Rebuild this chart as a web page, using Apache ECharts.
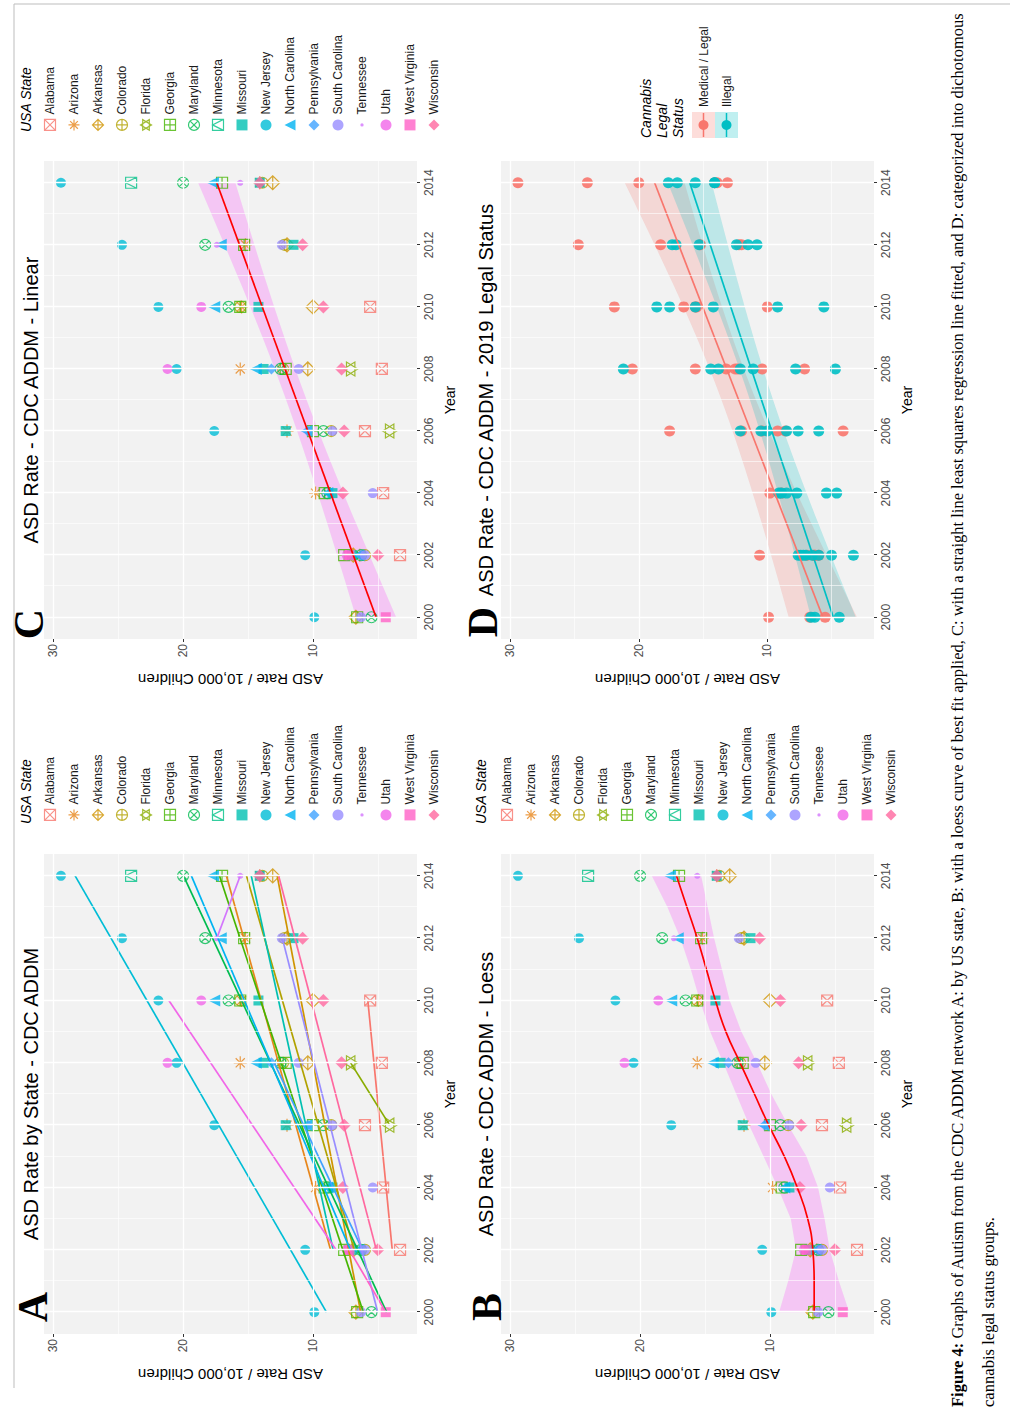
<!DOCTYPE html>
<html><head><meta charset="utf-8">
<script src="https://cdn.jsdelivr.net/npm/echarts@6/dist/echarts.min.js"></script>
<style>
html,body{margin:0;padding:0;background:#fff;overflow:hidden;width:1023px;height:1425px}
#wrap{position:absolute;left:0;top:0;width:1425px;height:1023px;transform-origin:0 0;transform:translate(0px,1425px) rotate(-90deg)}
#chart{width:1425px;height:1023px}
</style></head><body>
<div id="wrap"><div id="chart"></div></div>
<script>
// ---------------- DATA ----------------
const years = [2000, 2002, 2004, 2006, 2008, 2010, 2012, 2014];
const stateNames = ['Alabama','Arizona','Arkansas','Colorado','Florida','Georgia','Maryland','Minnesota','Missouri','New Jersey','North Carolina','Pennsylvania','South Carolina','Tennessee','Utah','West Virginia','Wisconsin'];
const N = null;
const rateAlabama        = [N, 3.3, 4.6, 6.0, 4.7, 5.6, N, N];
const rateArizona        = [N, 6.4, 9.8, 12.0, 15.6, 15.5, 15.2, 14.1];
const rateArkansas       = [6.7, 6.9, N, N, 10.4, 10.0, 12.0, 13.1];
const rateColorado       = [N, 6.0, N, 8.6, 12.3, 15.6, 12.2, 13.9];
const rateFlorida        = [N, N, N, 4.1, 7.1, N, N, N];
const rateGeorgia        = [6.6, 7.6, 9.1, 10.0, 12.1, 15.6, 15.3, 17.0];
const rateMaryland       = [5.5, 6.3, 8.9, 9.2, 12.5, 16.5, 18.3, 20.0];
const rateMinnesota      = [N, N, N, N, N, N, N, 24.0];
const rateMissouri       = [N, 7.0, 8.5, 12.1, 13.8, 14.2, 11.5, 14.1];
const rateNewJersey      = [9.9, 10.6, N, 17.6, 20.5, 21.9, 24.7, 29.4];
const rateNorthCarolina  = [N, 6.5, 8.9, 10.5, 14.4, 17.6, 17.1, 17.7];
const ratePennsylvania   = [N, 6.3, N, 10.4, 13.2, N, N, N];
const rateSouthCarolina  = [6.3, 6.0, 5.4, 8.5, 11.1, N, 12.4, N];
const rateTennessee      = [N, N, N, N, N, N, 17.4, 15.6];
const rateUtah           = [N, 7.4, N, N, 21.2, 18.6, N, N];
const rateWestVirginia   = [4.4, 7.2, N, N, N, N, N, N];
const rateWisconsin      = [N, 5.0, 7.7, 7.6, 7.8, 9.2, 10.8, 14.1];

const legalMedical = ['Arizona','Arkansas','Colorado','Florida','Maryland','Minnesota','New Jersey','Pennsylvania'];
const legalIllegal = ['Alabama','Georgia','Missouri','North Carolina','South Carolina','Tennessee','Utah','West Virginia','Wisconsin'];

// loess curve of panel B
const loessYears = [2000,2001,2002,2003,2004,2005,2006,2007,2008,2009,2010,2011,2012,2013,2014];
const loessFit   = [6.6,6.6,6.7,7.1,7.9,8.9,10.1,11.2,12.3,13.4,14.2,14.9,15.6,16.4,17.2];
const loessLower = [3.9,4.7,5.4,5.8,6.3,7.2,8.6,9.9,11.0,12.2,13.1,13.7,14.3,14.8,15.3];
const loessUpper = [9.3,8.6,8.0,8.4,9.4,10.5,11.6,12.6,13.6,14.6,15.4,16.1,16.9,17.9,19.1];

const yearTicks = [2000, 2002, 2004, 2006, 2008, 2010, 2012, 2014];
const rateTicks = [10, 20, 30];

// ---------------- STYLE ----------------
const rateByState = [rateAlabama, rateArizona, rateArkansas, rateColorado, rateFlorida, rateGeorgia, rateMaryland, rateMinnesota, rateMissouri, rateNewJersey, rateNorthCarolina, ratePennsylvania, rateSouthCarolina, rateTennessee, rateUtah, rateWestVirginia, rateWisconsin];
const palette = ['#F8766D','#E7861B','#CF9400','#B1A100','#89AC00','#45B500','#00BC50','#00C087','#00C0B1','#00BDD6','#00B3F1','#40A2FF','#998DFF','#D376FD','#F166E8','#FF61C7','#FF689F'];
const SQ = 'M0,0 L20,0 L20,20 L0,20 Z ';
const CI = 'M0,10 A10,10 0 1,1 20,10 A10,10 0 1,1 0,10 Z ';
const shapeSpec = [
  {s:'path://'+SQ+'M0,0 L20,20 M20,0 L0,20', z:11, h:true},
  {s:'path://M10,0 L10,20 M0,10 L20,10 M3,3 L17,17 M17,3 L3,17', z:13, h:true},
  {s:'path://M10,0 L20,10 L10,20 L0,10 Z M10,0 L10,20 M0,10 L20,10', z:14, h:true},
  {s:'path://'+CI+'M10,0 L10,20 M0,10 L20,10', z:11, h:true},
  {s:'path://M10,0 L19.5,16 L0.5,16 Z M10,20 L0.5,4 L19.5,4 Z', z:14, h:true},
  {s:'path://'+SQ+'M10,0 L10,20 M0,10 L20,10', z:11, h:true},
  {s:'path://'+CI+'M3,3 L17,17 M17,3 L3,17', z:11, h:true},
  {s:'path://'+SQ+'M0,20 L10,0 L20,20', z:11, h:true},
  {s:'rect', z:10}, {s:'circle', z:10}, {s:'triangle', z:12}, {s:'diamond', z:11},
  {s:'circle', z:10}, {s:'circle', z:6}, {s:'circle', z:10}, {s:'rect', z:10}, {s:'diamond', z:13}
];
const FONT = '"Liberation Sans", Arial, sans-serif';
const PANEL_BG = '#F2F2F2';
const RED = '#F8766D', CYAN = '#00BFC4';

// ---------------- HELPERS ----------------
function statePoints(i){
  const out = [];
  years.forEach((y, k) => { if (rateByState[i][k] != null) out.push([y, rateByState[i][k]]); });
  return out;
}
const allPoints = [];
stateNames.forEach((n, i) => statePoints(i).forEach(p => allPoints.push(p)));
function groupPoints(list){
  const out = [];
  list.forEach(n => { const i = stateNames.indexOf(n); statePoints(i).forEach(p => out.push(p)); });
  return out;
}
function ols(pts){
  const n = pts.length; let mx = 0, my = 0;
  pts.forEach(p => { mx += p[0]; my += p[1]; }); mx /= n; my /= n;
  let sxx = 0, sxy = 0;
  pts.forEach(p => { sxx += (p[0]-mx)**2; sxy += (p[0]-mx)*(p[1]-my); });
  const b = sxy/sxx, a = my - b*mx;
  let sse = 0; pts.forEach(p => { sse += (p[1]-a-b*p[0])**2; });
  const s = n > 2 ? Math.sqrt(sse/(n-2)) : 0;
  return {a, b, mx, sxx, n, s, f: x => a + b*x};
}
function tq(df){ const z = 1.959964; return z + (z**3+z)/(4*df) + (5*z**5+16*z**3+3*z)/(96*df*df); }
function ciBand(fit, x0, x1, steps){
  const t = tq(fit.n-2), lo = [], hi = [];
  for (let k = 0; k <= steps; k++){
    const x = x0 + (x1-x0)*k/steps;
    const se = fit.s*Math.sqrt(1/fit.n + (x-fit.mx)**2/fit.sxx);
    lo.push([x, fit.f(x) - t*se]); hi.push([x, fit.f(x) + t*se]);
  }
  return {lo, hi};
}
function expandRange(vals){
  const mn = Math.min(...vals), mx = Math.max(...vals), d = (mx-mn)*0.05;
  return [mn-d, mx+d];
}
const yrMin = Math.min(...years), yrMax = Math.max(...years);
const xRange = expandRange([yrMin, yrMax]);

// fits
const fitAll = ols(allPoints);
const bandC = ciBand(fitAll, yrMin, yrMax, 60);
const medPts = groupPoints(legalMedical), illPts = groupPoints(legalIllegal);
const fitMed = ols(medPts), fitIll = ols(illPts);
const bandMed = ciBand(fitMed, yrMin, yrMax, 60), bandIll = ciBand(fitIll, yrMin, yrMax, 60);
const loLoess = loessYears.map((y,i)=>[y, loessLower[i]]);
const hiLoess = loessYears.map((y,i)=>[y, loessUpper[i]]);

const dataVals = allPoints.map(p=>p[1]);
const rangeA = expandRange(dataVals);
const rangeB = expandRange(dataVals.concat(loessLower, loessUpper));
const rangeC = expandRange(dataVals.concat(bandC.lo.map(p=>p[1]), bandC.hi.map(p=>p[1])));
const rangeD = expandRange(dataVals.concat(bandMed.lo.map(p=>p[1]), bandMed.hi.map(p=>p[1]), bandIll.lo.map(p=>p[1]), bandIll.hi.map(p=>p[1])));

// ---------------- LAYOUT ----------------
const grids = [
  {left: 91,  top: 44,  width: 480, height: 373},  // A
  {left: 91,  top: 501, width: 480, height: 373},  // B
  {left: 786, top: 44,  width: 478, height: 373},  // C
  {left: 786, top: 501, width: 478, height: 373}   // D
].map(g => Object.assign(g, {show: true, backgroundColor: PANEL_BG, borderWidth: 0, containLabel: false}));

function xAx(gi){
  return {type:'value', gridIndex: gi, min: xRange[0], max: xRange[1],
    axisLine:{show:false}, splitLine:{show:false},
    axisTick:{show:true, customValues: yearTicks, length:3, lineStyle:{color:'#333', width:1}},
    axisLabel:{customValues: yearTicks, color:'#4D4D4D', fontSize:12, margin:6, fontFamily: FONT, formatter: v => String(v)},
    name:'Year', nameLocation:'middle', nameGap:26, nameTextStyle:{fontSize:14, color:'#000', fontFamily: FONT}};
}
function yAx(gi, r){
  return {type:'value', gridIndex: gi, min: r[0], max: r[1],
    axisLine:{show:false}, splitLine:{show:false},
    axisTick:{show:true, customValues: rateTicks, length:3, lineStyle:{color:'#333', width:1}},
    axisLabel:{customValues: rateTicks, color:'#4D4D4D', fontSize:12, margin:5, fontFamily: FONT, formatter: v => String(v)},
    name:'ASD Rate / 10,000 Children', nameLocation:'middle', nameRotate:90, nameGap:33,
    nameTextStyle:{fontSize:15, color:'#000', fontFamily: FONT}};
}
function gridLines(gi, r){
  const d = [];
  for (let y = yrMin; y <= yrMax; y += 1) d.push({xAxis: y, lineStyle:{color:'#fff', width: (y - yrMin) % 2 === 0 ? 1.3 : 0.6, type:'solid'}});
  for (let v = 5; v < r[1]; v += 5) if (v > r[0]) d.push({yAxis: v, lineStyle:{color:'#fff', width: v % 10 === 0 ? 1.3 : 0.6, type:'solid'}});
  return {type:'line', xAxisIndex: gi, yAxisIndex: gi, data: [], silent: true, z: 1,
    markLine:{silent:true, symbol:['none','none'], label:{show:false}, animation:false, data: d}};
}
function stateScatter(i, gi){
  const sp = shapeSpec[i], c = palette[i];
  return {type:'scatter', name: stateNames[i], xAxisIndex: gi, yAxisIndex: gi,
    symbol: sp.s, symbolSize: sp.z, z: 3,
    itemStyle: sp.h ? {color:'rgba(0,0,0,0)', borderColor: c, borderWidth: 1.2} : {color: c, borderWidth: 0},
    data: statePoints(i)};
}
function bandSeries(gi, lo, hi, fill){
  return {type:'custom', xAxisIndex: gi, yAxisIndex: gi, silent: true, z: 2,
    data: [[lo[0][0], lo[0][1]]],
    renderItem: (params, api) => {
      const pts = hi.map(p => api.coord(p)).concat(lo.slice().reverse().map(p => api.coord(p)));
      return {type:'polygon', shape:{points: pts}, style:{fill: fill}};
    }};
}
function lineSeries(gi, name, pts, color, smooth){
  return {type:'line', name, xAxisIndex: gi, yAxisIndex: gi, data: pts, showSymbol:false, symbol:'none',
    smooth: !!smooth, z: 4, silent: true, lineStyle:{color, width:1.7}, itemStyle:{color}};
}

const series = [];
[0,1,2,3].forEach((gi, k) => series.push(gridLines(gi, [rangeA, rangeB, rangeC, rangeD][k])));
// A: points + per-state OLS lines
stateNames.forEach((n,i) => series.push(stateScatter(i, 0)));
stateNames.forEach((n,i) => {
  const pts = statePoints(i);
  if (pts.length >= 2){
    const f = ols(pts), x0 = pts[0][0], x1 = pts[pts.length-1][0];
    series.push(lineSeries(0, n + ' fit', [[x0, f.f(x0)], [x1, f.f(x1)]], palette[i]));
  }
});
// B: loess band + points + loess line
series.push(bandSeries(1, loLoess, hiLoess, 'rgba(255,0,255,0.18)'));
stateNames.forEach((n,i) => series.push(stateScatter(i, 1)));
series.push(lineSeries(1, 'Loess fit', loessYears.map((y,i)=>[y, loessFit[i]]), '#FF0000', true));
// C: linear band + points + line
series.push(bandSeries(2, bandC.lo, bandC.hi, 'rgba(255,0,255,0.18)'));
stateNames.forEach((n,i) => series.push(stateScatter(i, 2)));
series.push(lineSeries(2, 'Linear fit', [[yrMin, fitAll.f(yrMin)], [yrMax, fitAll.f(yrMax)]], '#FF0000'));
// D: groups
series.push(bandSeries(3, bandMed.lo, bandMed.hi, 'rgba(248,118,109,0.22)'));
series.push(bandSeries(3, bandIll.lo, bandIll.hi, 'rgba(0,191,196,0.22)'));
series.push({type:'scatter', name:'Medical / Legal', xAxisIndex:3, yAxisIndex:3, symbol:'circle', symbolSize:11, z:3, itemStyle:{color: RED, opacity:0.9}, data: medPts});
series.push({type:'scatter', name:'Illegal', xAxisIndex:3, yAxisIndex:3, symbol:'circle', symbolSize:11, z:3, itemStyle:{color: CYAN, opacity:0.9}, data: illPts});
series.push(lineSeries(3, 'Medical fit', [[yrMin, fitMed.f(yrMin)], [yrMax, fitMed.f(yrMax)]], RED));
series.push(lineSeries(3, 'Illegal fit', [[yrMin, fitIll.f(yrMin)], [yrMax, fitIll.f(yrMax)]], CYAN));

// legends
const legendData = stateNames.map((n,i) => {
  const sp = shapeSpec[i], c = palette[i];
  let icon = sp.s;
  if (n === 'Tennessee') icon = 'path://M0,0 M20,20 M7,10 A3,3 0 1,1 13,10 A3,3 0 1,1 7,10 Z';
  return {name: n, icon,
    itemStyle: sp.h ? {color:'rgba(0,0,0,0)', borderColor: c, borderWidth: 1.2} : {color: c, borderWidth: 0}};
});
function legendAt(left, top){
  return {orient:'vertical', left, top, padding:0, itemWidth:11, itemHeight:11, itemGap:10,
    selectedMode:false, data: legendData,
    textStyle:{fontSize:12, color:'#1A1A1A', lineHeight:14, fontFamily: FONT}};
}

// graphics: titles, letters, legend titles, D legend, caption, frame
function txt(x, y, text, font, align, extra){
  return Object.assign({type:'text', x, y, silent:true,
    style:Object.assign({text, font, fill:'#000', align: align || 'left', textAlign: align || 'left', verticalAlign:'middle', textVerticalAlign:'middle'}, extra || {})});
}
const graphics = [
  {type:'line', shape:{x1:37, y1:14, x2:1421, y2:14}, style:{stroke:'#BDBDBD', lineWidth:1}, silent:true},
  {type:'line', shape:{x1:1421, y1:14, x2:1421, y2:1010}, style:{stroke:'#BDBDBD', lineWidth:1}, silent:true},
  txt(331, 31, 'ASD Rate by State - CDC ADDM', '20px ' + FONT, 'center'),
  txt(331, 486, 'ASD Rate - CDC ADDM - Loess', '20px ' + FONT, 'center'),
  txt(1025, 31, 'ASD Rate - CDC ADDM - Linear', '20px ' + FONT, 'center'),
  txt(1025, 486, 'ASD Rate - CDC ADDM - 2019 Legal Status', '20px ' + FONT, 'center'),
  txt(118, 33, 'A', 'bold 42px "Liberation Serif", serif', 'center'),
  txt(118, 487, 'B', 'bold 42px "Liberation Serif", serif', 'center'),
  txt(801, 29, 'C', 'bold 42px "Liberation Serif", serif', 'center'),
  txt(803, 483, 'D', 'bold 42px "Liberation Serif", serif', 'center'),
  txt(601, 26, 'USA State', 'italic 14px ' + FONT, 'left'),
  txt(601, 481, 'USA State', 'italic 14px ' + FONT, 'left'),
  txt(1293, 26, 'USA State', 'italic 14px ' + FONT, 'left'),
  txt(1287, 646, 'Cannabis', 'italic 14px ' + FONT, 'left'),
  txt(1287, 662, 'Legal', 'italic 14px ' + FONT, 'left'),
  txt(1287, 678, 'Status', 'italic 14px ' + FONT, 'left'),
  {type:'rect', shape:{x:1287, y:692, width:26, height:23}, style:{fill:'rgba(248,118,109,0.25)'}, silent:true},
  {type:'rect', shape:{x:1287, y:715, width:26, height:23}, style:{fill:'rgba(0,191,196,0.25)'}, silent:true},
  {type:'line', shape:{x1:1288, y1:703.5, x2:1312, y2:703.5}, style:{stroke:RED, lineWidth:1.5}, silent:true},
  {type:'line', shape:{x1:1288, y1:726.5, x2:1312, y2:726.5}, style:{stroke:CYAN, lineWidth:1.5}, silent:true},
  {type:'circle', shape:{cx:1300, cy:703.5, r:5}, style:{fill:RED}, silent:true},
  {type:'circle', shape:{cx:1300, cy:726.5, r:5}, style:{fill:CYAN}, silent:true},
  txt(1318, 703.5, 'Medical / Legal', '12px ' + FONT, 'left', {fill:'#1A1A1A'}),
  txt(1318, 726.5, 'Illegal', '12px ' + FONT, 'left', {fill:'#1A1A1A'}),
  txt(18, 957, '{b|Figure 4:} Graphs of Autism from the CDC ADDM network A: by US state, B: with a loess curve of best fit applied, C: with a straight line least squares regression line fitted, and D: categorized into dichotomous', '16.5px "Liberation Serif", serif', 'left',
      {rich:{b:{font:'bold 16.5px "Liberation Serif", serif', fill:'#000'}}}),
  txt(18, 988, 'cannabis legal status groups.', '16.6px "Liberation Serif", serif', 'left')
];

const chart = echarts.init(document.getElementById('chart'), null, {renderer:'svg', width:1425, height:1023});
chart.setOption({
  animation:false,
  backgroundColor:'#fff',
  textStyle:{fontFamily: FONT},
  grid: grids,
  xAxis: [0,1,2,3].map(xAx),
  yAxis: [yAx(0, rangeA), yAx(1, rangeB), yAx(2, rangeC), yAx(3, rangeD)],
  legend: [legendAt(604, 43), legendAt(604, 500), legendAt(1294, 43)],
  series,
  graphic: {elements: graphics}
});
</script>
</body></html>
